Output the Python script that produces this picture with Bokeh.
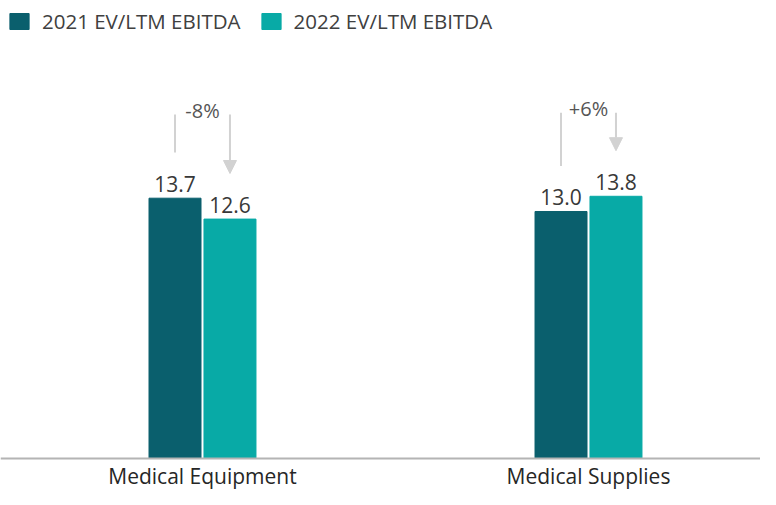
from bokeh.plotting import figure
from bokeh.models import (ColumnDataSource, Range1d, Legend, LegendItem,
                          Arrow, NormalHead, LabelSet, Span)
from bokeh.core.properties import value
from bokeh.embed import file_html
from bokeh.resources import INLINE

categories = ["Medical Equipment", "Medical Supplies"]
series_names = ["2021 EV/LTM EBITDA", "2022 EV/LTM EBITDA"]
values_2021 = [13.7, 13.0]
values_2022 = [12.6, 13.8]

DARK = "#0a5f6d"
LIGHT = "#08aaa6"
FONT = value("Open Sans")

centers = [i + 0.5 for i in range(len(categories))]
off = 0.0712
bw = 0.1347

y0 = -1.632
p = figure(width=760, height=489, output_backend="svg", toolbar_location=None,
           x_range=Range1d(-0.0233, 1.9456), y_range=Range1d(y0, 24.105),
           min_border_left=0, min_border_right=0, min_border_top=0, min_border_bottom=0)
p.outline_line_color = None
p.xgrid.visible = False
p.ygrid.visible = False
p.xaxis.visible = False
p.yaxis.visible = False

p.add_layout(Span(location=0, dimension="width", line_color="#b4b4b4", line_width=2))

x1 = [c - off for c in centers]
x2 = [c + off for c in centers]
s1 = ColumnDataSource(dict(x=x1, top=values_2021, lab=[f"{v:.1f}" for v in values_2021]))
s2 = ColumnDataSource(dict(x=x2, top=values_2022, lab=[f"{v:.1f}" for v in values_2022]))
r1 = p.vbar(x="x", top="top", width=bw, source=s1, color=DARK)
r2 = p.vbar(x="x", top="top", width=bw, source=s2, color=LIGHT)

for s in (s1, s2):
    p.add_layout(LabelSet(x="x", y="top", text="lab", source=s, text_align="center",
                          text_baseline="alphabetic", y_offset=6, text_font=FONT,
                          text_font_size="21px", text_color="#383838"))

# change arrows
pct = [(b - a) / a * 100 for a, b in zip(values_2021, values_2022)]
pct_lab = [f"{q:+.0f}%" for q in pct]
tops = [max(a, b) + 4.4 for a, b in zip(values_2021, values_2022)]
seg_src = ColumnDataSource(dict(x0=x1, y0=tops, x1=x1, y1=[v + 2.4 for v in values_2021]))
p.segment(x0="x0", y0="y0", x1="x1", y1="y1", source=seg_src, line_color="#d2d2d2", line_width=2)
arr_src = ColumnDataSource(dict(x0=x2, y0=tops, x1=x2, y1=[v + 2.4 for v in values_2022]))
p.add_layout(Arrow(end=NormalHead(size=13, fill_color="#d2d2d2", line_color="#d2d2d2"),
                   x_start="x0", y_start="y0", x_end="x1", y_end="y1", source=arr_src,
                   line_color="#d2d2d2", line_width=2))
pct_src = ColumnDataSource(dict(x=centers, y=[t + 0.2 for t in tops], lab=pct_lab))
p.add_layout(LabelSet(x="x", y="y", text="lab", source=pct_src, text_align="center",
                      text_baseline="middle", text_font=FONT, text_font_size="20px",
                      text_color="#555555"))

cat_src = ColumnDataSource(dict(x=centers, y=[y0] * len(centers), lab=categories))
p.add_layout(LabelSet(x="x", y="y", text="lab", source=cat_src, text_align="center",
                      text_baseline="alphabetic", y_offset=6, text_font=FONT,
                      text_font_size="21px", text_color="#262626"))

legend = Legend(items=[LegendItem(label=series_names[0], renderers=[r1]),
                       LegendItem(label=series_names[1], renderers=[r2])],
                location="top_left", orientation="horizontal", margin=7, padding=0,
                glyph_width=24, glyph_height=20, label_height=20, label_standoff=11,
                spacing=18, label_text_font="Open Sans", label_text_font_size="20.5px",
                label_text_color="#404040", border_line_color=None,
                background_fill_alpha=0)
p.add_layout(legend)

open("out.html", "w").write(file_html(p, INLINE))
